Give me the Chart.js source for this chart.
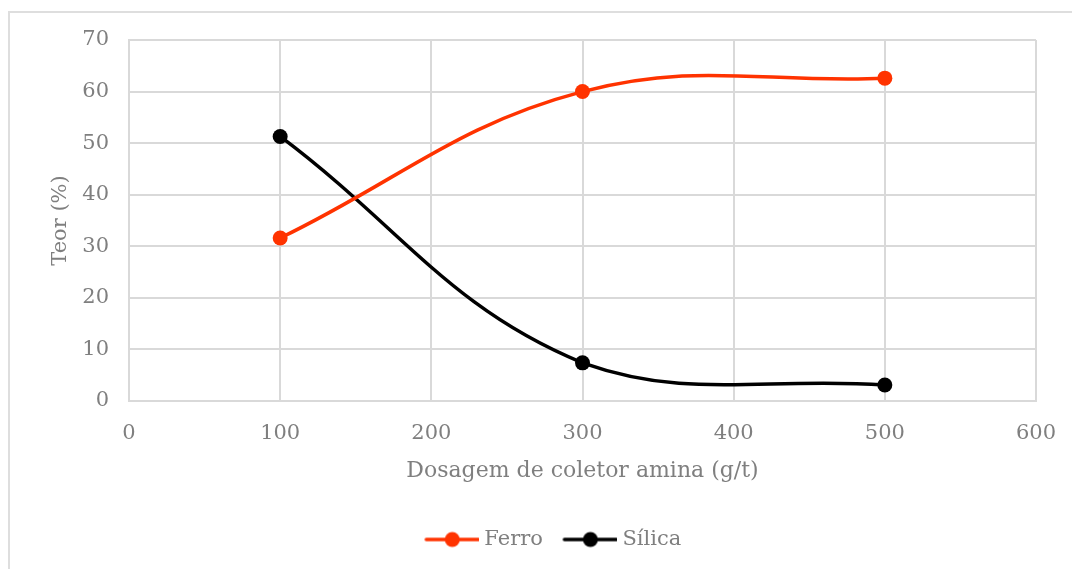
<!DOCTYPE html>
<html>
<head>
<meta charset="utf-8">
<script src="https://cdn.jsdelivr.net/npm/chart.js@4"></script>
<style>
  html, body { margin: 0; padding: 0; background: #ffffff; }
  #wrap { position: relative; width: 1072px; height: 569px; overflow: hidden; }
  #frame { position: absolute; left: 8px; top: 11px; width: 1100px; height: 600px;
           border: 2px solid #dedede; box-sizing: border-box; }
  canvas { position: absolute; left: 0; top: 0; }
</style>
</head>
<body>
<div id="wrap">
  <div id="frame"></div>
  <canvas id="chart" width="1072" height="569"></canvas>
</div>
<script>
// Collector dosage (g/t) and grade (%) of each product
const dosages = [100, 300, 500];
const ferro = [31.6, 60.0, 62.6];
const silica = [51.3, 7.4, 3.1];
const seriesNames = ['Ferro', 'Sílica'];
const seriesColors = ['#ff3300', '#000000'];
const xTitle = 'Dosagem de coletor amina (g/t)';
const yTitle = 'Teor (%)';

const FONT = 'DejaVu Serif';
const GREY = '#7f7f7f';
const GRID = '#d9d9d9';

// Legend marker: a short line with a dot in the middle, drawn at the
// right end of a wider image so it sits close to its label
const MARK_BOX = 59;
function legendMarker(color) {
  const c = document.createElement('canvas');
  c.width = MARK_BOX + 11; c.height = 18;
  const g = c.getContext('2d');
  g.strokeStyle = color; g.lineWidth = 3.5; g.lineCap = 'round';
  g.beginPath(); g.moveTo(17, 9); g.lineTo(69, 9); g.stroke();
  g.fillStyle = color;
  g.beginPath(); g.arc(43, 9, 7.5, 0, Math.PI * 2); g.fill();
  return c;
}
const markers = seriesColors.map(legendMarker);

// Nudge the legend row to the right
const legendShift = {
  id: 'legendShift',
  afterLayout(chart) {
    if (chart.legend) { chart.legend.left += 10; chart.legend.right += 10; }
  }
};

function makeSeries(values, i) {
  return {
    label: seriesNames[i],
    data: dosages.map((x, k) => ({ x: x, y: values[k] })),
    borderColor: seriesColors[i],
    backgroundColor: seriesColors[i],
    borderWidth: 3.5,
    pointRadius: 7.5,
    pointHoverRadius: 7.5,
    pointBorderWidth: 0,
    tension: 0.4,
    fill: false
  };
}

new Chart(document.getElementById('chart'), {
  type: 'line',
  data: { datasets: [makeSeries(ferro, 0), makeSeries(silica, 1)] },
  plugins: [legendShift],
  options: {
    responsive: false,
    animation: false,
    layout: { padding: { left: 40, right: 36, top: 40, bottom: 9 } },
    plugins: {
      tooltip: { enabled: false },
      legend: {
        position: 'bottom',
        labels: {
          color: GREY,
          font: { family: FONT, size: 21 },
          usePointStyle: true,
          pointStyleWidth: MARK_BOX,
          padding: 10,
          generateLabels: (chart) => chart.data.datasets.map((d, i) => ({
            text: d.label,
            fontColor: GREY,
            pointStyle: markers[i],
            datasetIndex: i,
            hidden: false,
            lineWidth: 0
          }))
        }
      }
    },
    scales: {
      x: {
        type: 'linear',
        min: 0, max: 600,
        ticks: { stepSize: 100, color: GREY, font: { family: FONT, size: 21 }, padding: 20 },
        grid: { color: GRID, lineWidth: 2, drawTicks: false },
        border: { color: GRID, width: 2 },
        title: { display: true, text: xTitle, color: GREY, font: { family: FONT, size: 22 },
                 padding: { top: 4, bottom: 35 } },
        afterFit: (s) => { s.height = 118; s.paddingLeft = 0; s.paddingRight = 0; }
      },
      y: {
        min: 0, max: 70,
        ticks: { stepSize: 10, color: GREY, font: { family: FONT, size: 21 }, padding: 20 },
        grid: { color: GRID, lineWidth: 2, drawTicks: false },
        border: { color: GRID, width: 2 },
        title: { display: true, text: yTitle, color: GREY, font: { family: FONT, size: 21 },
                 padding: { top: 8, bottom: 4 } },
        afterFit: (s) => { s.width = 89; }
      }
    }
  }
});
</script>
</body>
</html>
